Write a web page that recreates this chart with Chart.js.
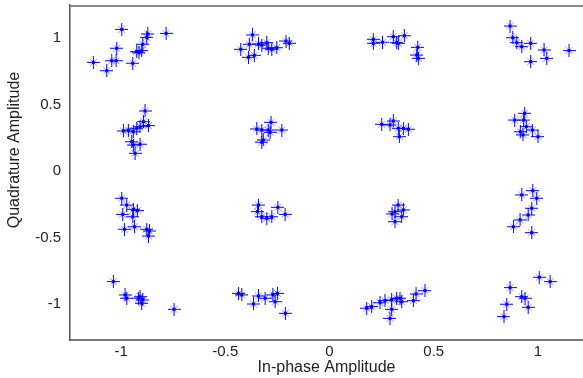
<!DOCTYPE html>
<html>
<head>
<meta charset="utf-8">
<script src="https://cdn.jsdelivr.net/npm/chart.js@4"></script>
<style>
html, body { margin: 0; padding: 0; background: #fff; }
</style>
</head>
<body>
<canvas id="graphCanvas" width="583" height="378"></canvas>
<script>
// received symbols, in-phase / quadrature pairs, one cluster per line
var inPhase = [
    -0.997, -0.872, -0.877, -0.784, -1.021, -0.896, -0.925, -0.901, -0.914, -1.133, -1.045, -1.024, -0.944, -1.069,
    -0.370, -0.385, -0.426, -0.341, -0.325, -0.301, -0.294, -0.277, -0.253, -0.209, -0.193, -0.389, -0.361,
    0.210, 0.210, 0.254, 0.306, 0.322, 0.330, 0.359, 0.423, 0.418, 0.426,
    0.866, 0.879, 0.898, 0.922, 0.965, 1.029, 1.042, 0.965, 1.149,
    -0.885, -0.893, -0.869, -0.909, -0.989, -0.965, -0.941, -0.925, -0.949, -0.909, -0.941, -0.933,
    -0.281, -0.349, -0.325, -0.294, -0.285, -0.229, -0.318, -0.325,
    0.250, 0.306, 0.290, 0.330, 0.354, 0.378, 0.335,
    0.936, 0.888, 0.931, 0.944, 0.915, 0.928, 0.973, 1.000,
    -0.997, -0.973, -0.941, -0.922, -0.992, -0.944, -0.984, -0.936, -0.877, -0.864, -0.869,
    -0.341, -0.346, -0.325, -0.301, -0.277, -0.248, -0.213,
    0.314, 0.354, 0.314, 0.346, 0.329, 0.300,
    0.922, 0.975, 0.994, 0.970, 0.953, 0.914, 0.882, 0.970,
    -1.037, -0.981, -0.973, -0.909, -0.896, -0.901, -0.917, -0.746,
    -0.437, -0.421, -0.365, -0.341, -0.309, -0.272, -0.250, -0.261, -0.212,
    0.178, 0.202, 0.242, 0.266, 0.298, 0.322, 0.298, 0.290, 0.338, 0.346, 0.402, 0.415, 0.458,
    1.006, 1.058, 0.866, 0.922, 0.938, 0.953, 0.850, 0.837
];
var quadrature = [
    1.065, 1.030, 1.005, 1.035, 0.923, 0.953, 0.897, 0.905, 0.889, 0.817, 0.829, 0.829, 0.810, 0.754,
    1.023, 0.953, 0.915, 0.955, 0.947, 0.965, 0.923, 0.915, 0.927, 0.977, 0.960, 0.855, 0.870,
    0.990, 0.960, 0.968, 1.010, 0.965, 0.960, 1.017, 0.930, 0.872, 0.847,
    1.090, 1.002, 0.965, 0.935, 0.960, 0.910, 0.847, 0.822, 0.905,
    0.451, 0.371, 0.341, 0.333, 0.301, 0.308, 0.295, 0.321, 0.220, 0.201, 0.195, 0.133,
    0.366, 0.316, 0.308, 0.308, 0.291, 0.308, 0.233, 0.216,
    0.351, 0.376, 0.346, 0.321, 0.321, 0.314, 0.258,
    0.434, 0.383, 0.383, 0.333, 0.295, 0.271, 0.308, 0.258,
    -0.205, -0.256, -0.288, -0.298, -0.326, -0.344, -0.438, -0.419, -0.438, -0.451, -0.489,
    -0.256, -0.306, -0.344, -0.356, -0.344, -0.273, -0.326,
    -0.306, -0.293, -0.381, -0.344, -0.256, -0.323,
    -0.180, -0.148, -0.205, -0.280, -0.331, -0.368, -0.419, -0.464,
    -0.832, -0.932, -0.957, -0.945, -0.970, -0.995, -0.957, -1.040,
    -0.920, -0.932, -1.000, -0.940, -0.957, -0.932, -0.920, -0.983, -1.070,
    -1.032, -1.020, -0.990, -0.974, -0.970, -0.957, -1.040, -1.108, -0.957, -0.983, -0.975, -0.925, -0.900,
    -0.799, -0.832, -0.877, -0.945, -0.957, -1.025, -1.002, -1.095
];
var xTicks = [-1, -0.5, 0, 0.5, 1];
var yTicks = [-1, -0.5, 0, 0.5, 1];

var points = [];
for (var i in inPhase) {
    points.push({x: inPhase[i], y: quadrature[i]});
}

// matlab-ish '*' marker: full plus, short soft diagonals, dark centre
function makeMarker() {
    var c = document.createElement('canvas');
    c.width = 13;
    c.height = 13;
    var g = c.getContext('2d');
    g.strokeStyle = '#0000ff';
    g.lineWidth = 1;
    g.beginPath();
    g.moveTo(0, 6.5); g.lineTo(13, 6.5);
    g.moveTo(6.5, 0); g.lineTo(6.5, 13);
    g.stroke();
    g.strokeStyle = 'rgba(40,40,255,0.5)';
    g.beginPath();
    g.moveTo(3, 3); g.lineTo(10, 10);
    g.moveTo(10, 3); g.lineTo(3, 10);
    g.stroke();
    g.fillStyle = '#0000ee';
    g.fillRect(5, 5, 3, 3);
    return c;
}

var tickFont = {family: 'Liberation Sans', size: 15};
var titleFont = {family: 'Liberation Sans', size: 16};

// top frame line and the (off-centre) y title
var framePlugin = {
    id: 'frame',
    afterDraw: function (chart) {
        var ctx = chart.ctx;
        var a = chart.chartArea;
        ctx.save();
        ctx.strokeStyle = '#888888';
        ctx.lineWidth = 2;
        ctx.beginPath();
        ctx.moveTo(a.left, a.top + 1);
        ctx.lineTo(a.right, a.top + 1);
        ctx.stroke();
        ctx.translate(15, 150);
        ctx.rotate(-Math.PI / 2);
        ctx.fillStyle = '#222222';
        ctx.font = '16px "Liberation Sans"';
        ctx.textAlign = 'center';
        ctx.textBaseline = 'middle';
        ctx.fillText('Quadrature Amplitude', 0, 0);
        ctx.restore();
    }
};

var graphTarget = document.getElementById('graphCanvas');
var scatter = new Chart(graphTarget, {
    type: 'scatter',
    data: {
        datasets: [{
            label: 'Received',
            data: points,
            pointStyle: makeMarker(),
            pointRadius: 6,
            borderColor: '#0000ff',
            backgroundColor: '#0000ff',
            borderWidth: 1
        }]
    },
    options: {
        responsive: false,
        animation: false,
        layout: {autoPadding: false, padding: {top: 5, right: 0, bottom: 0, left: 0}},
        plugins: {legend: {display: false}, tooltip: {enabled: false}},
        scales: {
            x: {
                type: 'linear',
                min: -1.245,
                max: 1.216,
                afterBuildTicks: function (scale) {
                    scale.ticks = xTicks.map(function (v) { return {value: v}; });
                },
                afterFit: function (scale) {
                    scale.height = 38;
                    scale.paddingLeft = 0;
                    scale.paddingRight = 0;
                },
                grid: {display: false, drawTicks: false, tickLength: 0},
                border: {display: true, color: '#777777', width: 2},
                ticks: {padding: 3, color: '#222222', font: tickFont,
                    callback: function (v) { return String(v); }},
                title: {display: true, text: 'In-phase Amplitude', color: '#222222',
                    font: titleFont, padding: {top: 0, bottom: 1}}
            },
            y: {
                type: 'linear',
                min: -1.271,
                max: 1.248,
                afterBuildTicks: function (scale) {
                    scale.ticks = yTicks.map(function (v) { return {value: v}; });
                },
                afterFit: function (scale) {
                    scale.width = 70;
                    scale.paddingTop = 0;
                    scale.paddingBottom = 0;
                },
                grid: {display: false, drawTicks: false, tickLength: 0},
                border: {display: true, color: '#555555', width: 1.5},
                ticks: {padding: 9, color: '#222222', font: tickFont,
                    callback: function (v) { return String(v); }}
            }
        }
    },
    plugins: [framePlugin]
});
</script>
</body>
</html>
